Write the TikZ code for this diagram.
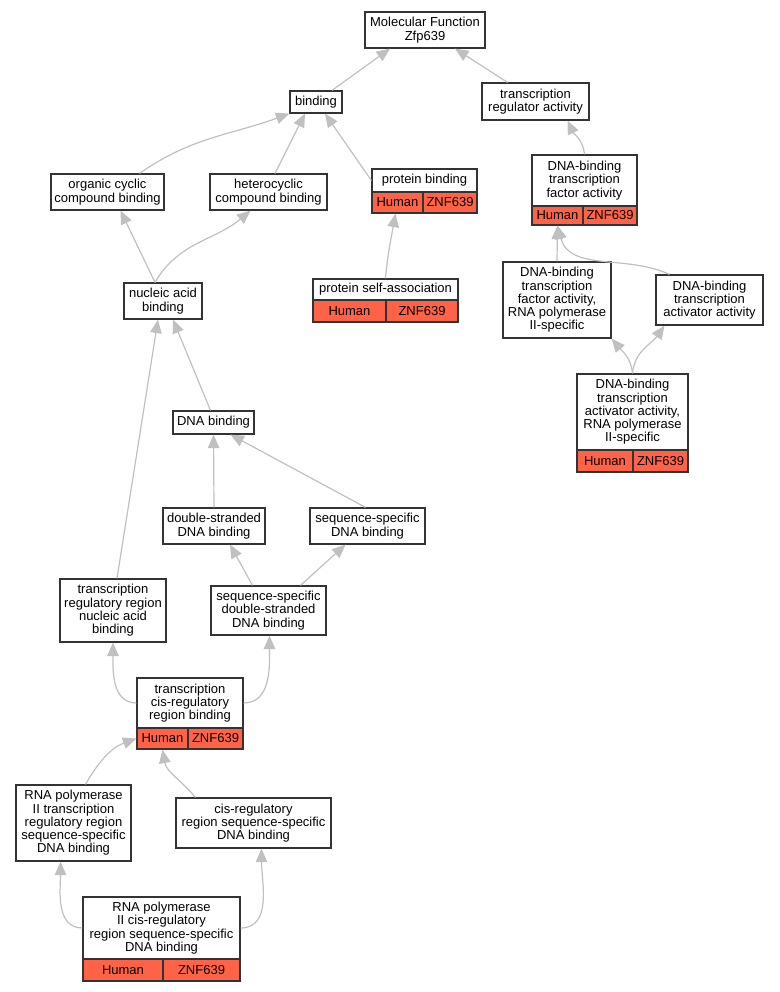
\documentclass[tikz,border=0pt]{standalone}
\usepackage{fontspec}
\setmainfont{Liberation Sans}
\usetikzlibrary{arrows.meta}
\definecolor{edgegray}{HTML}{C0C0C0}
\definecolor{genered}{HTML}{FF6347}
\definecolor{boxline}{HTML}{333333}
\tikzset{
  box/.style={draw=boxline, line width=1.2pt, fill=white, inner sep=0pt, align=center,
    font=\fontsize{13}{13.3}\selectfont},
  cell/.style={box, fill=genered},
  edge/.style={draw=edgegray, line width=1.2pt, -{Triangle[length=13.5pt,width=11.5pt]}}
}
\begin{document}
\begin{tikzpicture}[x=1pt,y=-1pt]
\useasboundingbox (0,0) rectangle (779,992);
% nodes
\node[box, minimum width=120, minimum height=36] (mf) at (425,30) {Molecular Function\\Zfp639};
\node[box, minimum width=52, minimum height=22] (binding) at (316,102) {binding};
\node[box, minimum width=107, minimum height=37] (tra) at (535.5,101.5) {transcription\\regulator activity};
% protein binding
\node[box, minimum width=105, minimum height=23] (pb) at (424.5,180.5) {protein binding};
\node[cell, minimum width=51, minimum height=21] (pbh) at (397.5,202.5) {Human};
\node[cell, minimum width=54, minimum height=21] (pbz) at (450,202.5) {ZNF639};
% DNA-binding TF activity
\node[box, minimum width=105, minimum height=51] (dbtfa) at (584.5,180.5) {DNA-binding\\transcription\\factor activity};
\node[cell, minimum width=51, minimum height=19] (dbtfah) at (557.5,215.5) {Human};
\node[cell, minimum width=54, minimum height=19] (dbtfaz) at (610,215.5) {ZNF639};
\node[box, minimum width=113, minimum height=36] (orgc) at (107.5,192) {organic cyclic\\compound binding};
\node[box, minimum width=117, minimum height=36] (het) at (268.5,192) {heterocyclic\\compound binding};
\node[box, minimum width=78, minimum height=36] (nab) at (163,301) {nucleic acid\\binding};
% protein self-association
\node[box, minimum width=145, minimum height=21] (psa) at (385.5,289.5) {protein self-association};
\node[cell, minimum width=73, minimum height=22] (psah) at (349.5,311) {Human};
\node[cell, minimum width=72, minimum height=22] (psaz) at (422,311) {ZNF639};
\node[box, minimum width=108, minimum height=76] (tfp) at (557,300) {DNA-binding\\transcription\\factor activity,\\RNA polymerase\\II-specific};
\node[box, minimum width=107, minimum height=50] (act) at (709.5,300) {DNA-binding\\transcription\\activator activity};
% activator pol II
\node[box, minimum width=111, minimum height=76] (apol) at (632.5,412) {DNA-binding\\transcription\\activator activity,\\RNA polymerase\\II-specific};
\node[cell, minimum width=56, minimum height=22] (apolh) at (605,461) {Human};
\node[cell, minimum width=55, minimum height=22] (apolz) at (660.5,461) {ZNF639};
\node[box, minimum width=81, minimum height=23] (dnab) at (213.5,422.5) {DNA binding};
\node[box, minimum width=102, minimum height=36] (ds) at (214,526) {double-stranded\\DNA binding};
\node[box, minimum width=115, minimum height=36] (ss) at (367.5,526) {sequence-specific\\DNA binding};
\node[box, minimum width=106, minimum height=63] (trr) at (113,610.5) {transcription\\regulatory region\\nucleic acid\\binding};
\node[box, minimum width=115, minimum height=49] (ssds) at (268.5,610.5) {sequence-specific\\double-stranded\\DNA binding};
% transcription cis-regulatory region binding
\node[box, minimum width=106, minimum height=50] (tcrb) at (190,703) {transcription\\cis-regulatory\\region binding};
\node[cell, minimum width=51, minimum height=21] (tcrbh) at (162.5,738.5) {Human};
\node[cell, minimum width=55, minimum height=21] (tcrbz) at (215.5,738.5) {ZNF639};
\node[box, minimum width=115, minimum height=76] (rtrr) at (73.5,823) {RNA polymerase\\II transcription\\regulatory region\\sequence-specific\\DNA binding};
\node[box, minimum width=155, minimum height=50] (cisreg) at (253.5,823) {cis-regulatory\\region sequence-specific\\DNA binding};
% RNA pol II cis-regulatory
\node[box, minimum width=157, minimum height=62] (rcis) at (161.5,928) {RNA polymerase\\II cis-regulatory\\region sequence-specific\\DNA binding};
\node[cell, minimum width=80, minimum height=22] (rcish) at (123,970) {Human};
\node[cell, minimum width=77, minimum height=22] (rcisz) at (201.5,970) {ZNF639};
% edges
\draw[edge] ([xshift=16]binding.north) -- ([xshift=-35]mf.south);
\draw[edge] ([xshift=-28]tra.north) -- ([xshift=30]mf.south);
\draw[edge] ([xshift=32]orgc.north) to[out=35,in=200] (binding.south west);
\draw[edge] ([xshift=6.5]het.north) -- ([xshift=-11]binding.south);
\draw[edge] (pb.west) -- ([xshift=9]binding.south);
\draw[edge] (dbtfa.north) to[out=95,in=-65] ([xshift=32]tra.south);
\draw[edge] (psa.north) to[out=85,in=-100] ([xshift=-2]pbh.south);
\draw[edge] ([xshift=-8]nab.north) -- ([xshift=13]orgc.south);
\draw[edge] ([xshift=-8]nab.north) to[out=60,in=-140] ([xshift=-18]het.south);
\draw[edge] (tfp.north) -- (dbtfah.south);
\draw[edge] ([xshift=-40]act.north) to[out=155,in=-75] (dbtfah.south);
\draw[edge] (apol.north) to[out=95,in=-50] (tfp.south east);
\draw[edge] (apol.north) to[out=85,in=-125] ([xshift=-45]act.south);
\draw[edge] ([xshift=-3]dnab.north) -- ([xshift=10]nab.south);
\draw[edge] ([xshift=4]trr.north) -- ([xshift=-5]nab.south);
\draw[edge] (ds.north) -- (dnab.south);
\draw[edge] ([xshift=-2]ss.north) -- ([xshift=17]dnab.south);
\draw[edge] ([xshift=-16]ssds.north) -- ([xshift=16]ds.south);
\draw[edge] ([xshift=32]ssds.north) -- ([xshift=-22]ss.south);
\draw[edge] (tcrb.west) to[out=180,in=-90] (trr.south);
\draw[edge] (tcrb.east) to[out=0,in=-90] ([xshift=1]ssds.south);
\draw[edge] ([xshift=12]rtrr.north) to[out=60,in=200] (tcrbh.west);
\draw[edge] ([xshift=-58]cisreg.north) to[out=130,in=-80] (tcrbh.south);
\draw[edge] (rcis.west) to[out=180,in=-90] ([xshift=-13]rtrr.south);
\draw[edge] (rcis.east) to[out=0,in=-90] ([xshift=8]cisreg.south);
\end{tikzpicture}
\end{document}
